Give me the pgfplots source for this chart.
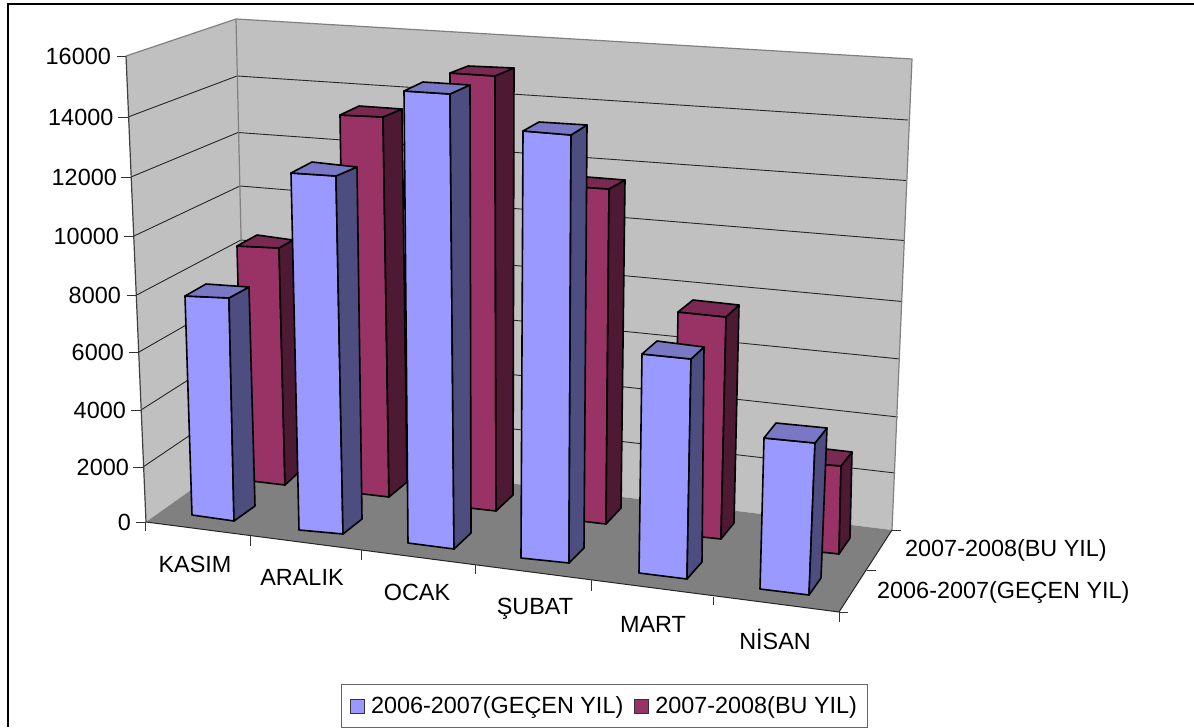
\documentclass[border=0pt]{standalone}
\usepackage{fontspec}
\setmainfont{Liberation Sans}
\usepackage{pgfplots}
\pgfplotsset{compat=1.18}

\definecolor{bluefront}{HTML}{9999FF}
\definecolor{blueside}{HTML}{4D4D80}
\definecolor{bluetop}{HTML}{7878C4}
\definecolor{redfront}{HTML}{993366}
\definecolor{redside}{HTML}{4D1933}
\definecolor{redtop}{HTML}{7A2952}
\definecolor{wall}{HTML}{C0C0C0}
\definecolor{floorgray}{HTML}{808080}

% one box: front, right side and top; corners are read off the picture in pixels
% #1 colour prefix, #2-#5 top FL FR BR BL, #6-#8 bottom FL FR BR
\newcommand{\barbox}[8]{%
  \addplot[forget plot, draw=black, line width=1.6pt, line join=round, fill=#1front] coordinates {#2 #3 #7 #6} -- cycle;
  \addplot[forget plot, draw=black, line width=1.6pt, line join=round, fill=#1side] coordinates {#3 #4 #8 #7} -- cycle;
  \addplot[forget plot, draw=black, line width=1.6pt, line join=round, fill=#1top] coordinates {#2 #3 #4 #5} -- cycle;
}
\newcommand{\gridln}[1]{\addplot[forget plot, black!85, line width=0.9pt] coordinates {#1};}
\newcommand{\tickln}[1]{\addplot[forget plot, black!80, line width=0.9pt] coordinates {#1};}

\begin{document}
\begin{tikzpicture}
\begin{axis}[
    scale only axis,
    width=1194pt,
    height=727pt,
    xmin=0, xmax=1194,
    ymin=0, ymax=727,
    y dir=reverse,
    axis lines=none,
    clip=true,
    legend columns=2,
    legend cell align=left,
    legend style={
        at={(axis cs:604.5,706)},
        anchor=center,
        draw=black!60,
        line width=1.2pt,
        inner xsep=8.5pt,
        inner ysep=10pt,
        font=\fontsize{23.4}{26}\selectfont,
        /tikz/every odd column/.append style={column sep=4pt},
        /tikz/every even column/.append style={column sep=9pt},
    },
    legend image code/.code={
        \draw[#1, line width=1pt] (0pt,-7pt) rectangle (14pt,7pt);
    },
]

% keep the page as large as the whole picture
\path (axis cs:0,0) rectangle (axis cs:1194,727);

% outer frame
\addplot[forget plot, black, line width=1.2pt] coordinates {(8,727) (8,4) (1194,4)};

% walls
\addplot[forget plot, fill=wall, draw=none] coordinates {(126,56) (236,19) (246,451) (146,522)} -- cycle;
\addplot[forget plot, fill=wall, draw=none] coordinates {(236,19) (912,59) (892,530) (246,451)} -- cycle;

% grid, left wall then back wall
\gridln{(128,117) (237,76) (908,120)}
\gridln{(131,177) (238,132.5) (906,180.5)}
\gridln{(134,236) (240,186) (904,240.5)}
\gridln{(136.7,295) (241,240) (902,301.5)}
\gridln{(139,352) (242,293) (900,359)}
\gridln{(141,410) (243,345) (898,417)}
\gridln{(143,467) (245,398) (895,473)}

% wall edges
\addplot[forget plot, floorgray, line width=1.2pt] coordinates {(126,56) (236,19) (912,59) (892,530)};
\addplot[forget plot, floorgray, line width=1.2pt] coordinates {(236,19) (246,451)};
\addplot[forget plot, black!75, line width=1.2pt] coordinates {(126,56) (146,522)};

% floor
\addplot[forget plot, fill=floorgray, draw=none] coordinates {(146,522) (246,451) (892,530) (839,612)} -- cycle;
\addplot[forget plot, black!85, line width=1pt] coordinates {(146,522) (839,612) (892,530)};

% ticks, value axis
\tickln{(117,56) (126,56)}
\tickln{(118,117) (128,117)}
\tickln{(121,177) (131,177)}
\tickln{(124,236) (134,236)}
\tickln{(127,295) (136.7,295)}
\tickln{(129,352) (139,352)}
\tickln{(131,410) (141,410)}
\tickln{(133,467) (143,467)}
\tickln{(136,522) (146,522)}
% ticks, category axis
\tickln{(145.5,522) (145.5,531)}
\tickln{(250,536) (250,546)}
\tickln{(361,550) (361,560)}
\tickln{(475,565) (475,574)}
\tickln{(591,580) (591,591)}
\tickln{(713,597) (713,605)}
\tickln{(839,612) (839,622)}
% ticks, series axis
\tickln{(892,530) (901,530)}
\tickln{(867,570) (876,570)}
\tickln{(839,612) (848,612)}

% 2007-2008, back row
\barbox{red}{(237,246)}{(279,248)}{(293,240)}{(257,235)}{(243,480)}{(285,485)}{(299,472)}
\barbox{red}{(340,115)}{(383,117)}{(402,109)}{(359,106)}{(346,492)}{(389,497)}{(407,482)}
\barbox{red}{(450,73)}{(495,76)}{(514,68)}{(468,66)}{(452,506)}{(496,511)}{(513,495)}
\barbox{red}{(565,186)}{(609,189)}{(625,180)}{(587,177)}{(563,519)}{(606,524)}{(621,508)}
\barbox{red}{(678,312)}{(726,317)}{(739,305)}{(693,300)}{(674,534)}{(721,539)}{(734,523)}
\barbox{red}{(795,462)}{(841,466)}{(852,452)}{(826,449)}{(793,549)}{(839,554)}{(850,538)}

% 2006-2007, front row
\barbox{blue}{(185,296)}{(229,298)}{(249,287)}{(206,284)}{(192,515)}{(234,521)}{(255,506)}
\barbox{blue}{(291,173)}{(336,176)}{(357,167)}{(312,162)}{(299,530)}{(343,534)}{(362,519)}
\barbox{blue}{(404,91)}{(450,94)}{(470,85)}{(423,82)}{(408,543)}{(454,549)}{(471,533)}
\barbox{blue}{(523,131)}{(571,135)}{(587,125)}{(539,122)}{(521,558)}{(569,563)}{(584,548)}
\barbox{blue}{(642,354)}{(691,359)}{(704,347)}{(657,341)}{(639,573)}{(687,579)}{(702,562)}
\barbox{blue}{(764,438)}{(815,443)}{(827,428)}{(776,423)}{(760,589)}{(809,595)}{(821,578)}

% value labels
\begin{scope}[every node/.style={font=\fontsize{23.4}{26}\selectfont, inner sep=0pt}]
\node[anchor=east] at (axis cs:111,56) {16000};
\node[anchor=east] at (axis cs:113.5,117) {14000};
\node[anchor=east] at (axis cs:117,177) {12000};
\node[anchor=east] at (axis cs:119,236) {10000};
\node[anchor=east] at (axis cs:121,295) {8000};
\node[anchor=east] at (axis cs:124,352) {6000};
\node[anchor=east] at (axis cs:126,410) {4000};
\node[anchor=east] at (axis cs:129,467) {2000};
\node[anchor=east] at (axis cs:131,522) {0};

\node at (axis cs:195,564) {KASIM};
\node at (axis cs:302,577) {ARALIK};
\node at (axis cs:417,592) {OCAK};
\node at (axis cs:535,609) {ŞUBAT};
\node at (axis cs:653,624) {MART};
\node at (axis cs:775,639) {NİSAN};

\node[anchor=west] at (axis cs:905,550.5) {2007-2008(BU YIL)};
\node[anchor=west] at (axis cs:877,592) {2006-2007(GEÇEN YIL)};
\end{scope}

\addlegendimage{fill=bluefront, draw=black!80}
\addlegendentry{2006-2007(GEÇEN YIL)}
\addlegendimage{fill=redfront, draw=black!80}
\addlegendentry{2007-2008(BU YIL)}

\end{axis}
\end{tikzpicture}
\end{document}
